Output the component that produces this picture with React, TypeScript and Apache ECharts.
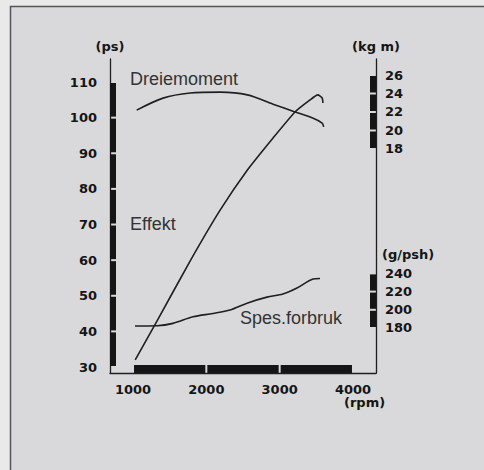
import React, { useEffect, useRef } from "react";
import * as echarts from "echarts";

// ---- data ----
const rpmTicks = [1000, 2000, 3000, 4000];
const psTicks = [30, 40, 50, 60, 70, 80, 90, 100, 110];
const kgmTicks = [18, 20, 22, 24, 26];
const gpshTicks = [180, 200, 220, 240];

// Effekt (ps) vs rpm
const effekt: [number, number][] = [
  [1030, 32.0], [1330, 43.0], [1780, 59.8], [2190, 74.1], [2560, 85.3],
  [2910, 94.3], [3210, 101.6], [3410, 104.9], [3520, 106.4], [3580, 105.5], [3590, 104.1],
];
// Dreiemoment (kg m) vs rpm
const dreiemoment: [number, number][] = [
  [1050, 22.2], [1410, 23.5], [1780, 24.05], [2190, 24.15], [2560, 23.85],
  [2910, 22.85], [3210, 22.0], [3450, 21.35], [3580, 20.8], [3600, 20.4],
];
// Spes.forbruk (g/psh) vs rpm
const spes: [number, number][] = [
  [1027, 182.2], [1327, 182.5], [1545, 185.1], [1818, 192.3], [2091, 196.0],
  [2323, 199.8], [2555, 207.3], [2827, 213.9], [3045, 217.3], [3236, 223.9],
  [3455, 233.8], [3550, 234.4],
];

// segmented scale bars drawn along the axes
const psBar: [number, number][] = [[30, 40], [40, 50], [50, 60], [60, 70], [70, 80], [80, 90], [90, 100], [100, 110]];
const rpmBar: [number, number][] = [[1000, 2000], [2000, 3000], [3000, 4000]];
const kgmBar: [number, number][] = [[18, 20], [20, 22], [22, 24], [24, 26]];
const gpshBar: [number, number][] = [[180, 200], [200, 220], [220, 240]];

const LINE = "#1f1f1f";
const INK = "#151515";
const BG_IN = "#d9d9db";
const BG_OUT = "#e9e9e9";
const NUM_FONT = "DejaVu Sans";
const TXT_FONT = "Liberation Sans";

function vBar(side: "left" | "right", yIndex: number, data: [number, number][]) {
  return {
    type: "custom",
    coordinateSystem: "cartesian2d",
    xAxisIndex: 0,
    yAxisIndex: yIndex,
    silent: true,
    clip: false,
    data,
    encode: { x: -1, y: [0, 1] },
    renderItem: (params: any, api: any) => {
      const cs = params.coordSys;
      const a = api.coord([2000, api.value(0)])[1];
      const b = api.coord([2000, api.value(1)])[1];
      const w = 6;
      const x = side === "left" ? cs.x : cs.x + cs.width - w;
      return {
        type: "rect",
        shape: { x, y: b + 1, width: w, height: a - b - 2 },
        style: { fill: INK },
      };
    },
  };
}

function hBar(data: [number, number][]) {
  return {
    type: "custom",
    coordinateSystem: "cartesian2d",
    xAxisIndex: 0,
    yAxisIndex: 0,
    silent: true,
    clip: false,
    data,
    encode: { x: [0, 1], y: -1 },
    renderItem: (params: any, api: any) => {
      const cs = params.coordSys;
      const a = api.coord([api.value(0), 50])[0];
      const b = api.coord([api.value(1), 50])[0];
      const h = 8;
      return {
        type: "rect",
        shape: { x: a + 1, y: cs.y + cs.height - h, width: b - a - 2, height: h },
        style: { fill: INK },
      };
    },
  };
}

export default function App() {
  const ref = useRef<HTMLDivElement>(null);
  useEffect(() => {
    if (!ref.current) return;
    const chart = echarts.init(ref.current, undefined, { renderer: "svg" });
    const numLabel = {
      fontFamily: NUM_FONT,
      fontWeight: "bold" as const,
      fontSize: 13,
      color: INK,
    };
    const plain = (v: number) => String(v);
    chart.setOption({
      animation: false,
      backgroundColor: BG_OUT,
      graphic: [
        {
          type: "rect",
          z: -10,
          silent: true,
          shape: { x: 10.5, y: 6.5, width: 490, height: 480 },
          style: { fill: BG_IN, stroke: "#555", lineWidth: 1.5 },
        },
        {
          type: "text",
          left: 130,
          top: 70,
          style: { text: "Dreiemoment", font: `18px "${TXT_FONT}"`, fill: "#333" },
        },
        {
          type: "text",
          left: 130,
          top: 215,
          style: { text: "Effekt", font: `18px "${TXT_FONT}"`, fill: "#333" },
        },
        {
          type: "text",
          left: 240,
          top: 309,
          style: { text: "Spes.forbruk", font: `18px "${TXT_FONT}"`, fill: "#333" },
        },
        {
          type: "text",
          left: 382,
          top: 248,
          style: { text: "(g/psh)", font: `bold 13px "${NUM_FONT}"`, fill: INK },
        },
        {
          type: "text",
          left: 344,
          top: 396,
          style: { text: "(rpm)", font: `bold 13px "${NUM_FONT}"`, fill: INK },
        },
      ],
      grid: { left: 110, right: 108, top: 59, bottom: 97, containLabel: false },
      xAxis: {
        type: "value",
        min: 686,
        max: 4314,
        axisLine: { show: true, onZero: false, lineStyle: { color: LINE, width: 1.3 } },
        axisTick: { show: false },
        splitLine: { show: false },
        axisLabel: { ...numLabel, margin: 10, customValues: rpmTicks, formatter: plain },
      },
      yAxis: [
        {
          type: "value",
          position: "left",
          min: 28.32,
          max: 116.46,
          name: "(ps)",
          nameLocation: "end",
          nameGap: 6,
          nameTextStyle: { ...numLabel },
          axisLine: { show: true, onZero: false, lineStyle: { color: LINE, width: 1.3 } },
          axisTick: { show: false },
          splitLine: { show: false },
          axisLabel: { ...numLabel, margin: 13, customValues: psTicks, formatter: plain },
        },
        {
          type: "value",
          position: "right",
          min: -6.22,
          max: 27.73,
          name: "(kg m)",
          nameLocation: "end",
          nameGap: 6,
          nameTextStyle: { ...numLabel, align: "center" },
          axisLine: { show: true, onZero: false, lineStyle: { color: LINE, width: 1.3 } },
          axisTick: { show: false },
          splitLine: { show: false },
          axisLabel: { ...numLabel, margin: 9, customValues: kgmTicks, formatter: plain },
        },
        {
          type: "value",
          position: "right",
          offset: 0,
          min: 130.55,
          max: 475.6,
          axisLine: { show: false, onZero: false },
          axisTick: { show: false },
          splitLine: { show: false },
          axisLabel: { ...numLabel, margin: 9, customValues: gpshTicks, formatter: plain },
        },
      ],
      series: [
        vBar("left", 0, psBar),
        vBar("right", 1, kgmBar),
        vBar("right", 2, gpshBar),
        hBar(rpmBar),
        {
          name: "Effekt",
          type: "line",
          yAxisIndex: 0,
          data: effekt,
          smooth: 0.2,
          showSymbol: false,
          lineStyle: { color: LINE, width: 1.6 },
        },
        {
          name: "Dreiemoment",
          type: "line",
          yAxisIndex: 1,
          data: dreiemoment,
          smooth: 0.3,
          showSymbol: false,
          lineStyle: { color: LINE, width: 1.6 },
        },
        {
          name: "Spes.forbruk",
          type: "line",
          yAxisIndex: 2,
          data: spes,
          smooth: 0.3,
          showSymbol: false,
          lineStyle: { color: LINE, width: 1.6 },
        },
      ],
    });
    return () => chart.dispose();
  }, []);
  return (
    <div
      ref={ref}
      style={{ position: "fixed", left: 0, top: 0, width: 484, height: 470 }}
    />
  );
}
